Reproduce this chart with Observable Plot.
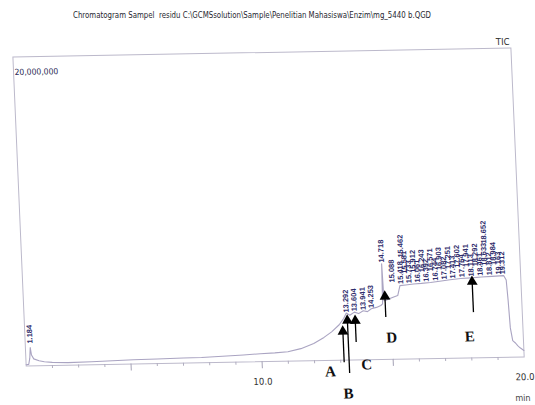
<!DOCTYPE html>
<html>
<head>
<meta charset="utf-8">
<script src="https://cdn.jsdelivr.net/npm/d3@7"></script>
<script src="https://cdn.jsdelivr.net/npm/@observablehq/plot@0.6"></script>
<style>
  html, body { margin: 0; padding: 0; background: #fff; }
  #wrap { position: relative; width: 535px; height: 405px; overflow: hidden; }
  #title { position: absolute; left: 73px; top: 9px; font: 9.5px "DejaVu Sans Condensed", "Liberation Sans", sans-serif; color: #1f1f30; white-space: pre; transform-origin: 0 0; }
  #chart svg { display: block; transform-origin: 268px 206px; transform: matrix(1, -0.018, 0.043, 1, 0, 0); }
</style>
</head>
<body>
<div id="wrap">
  <div id="chart"></div>
  <div id="title">Chromatogram Sampel  residu C:\GCMSsolution\Sample\Penelitian Mahasiswa\Enzim\mg_5440 b.QGD</div>
</div>
<script>
// ---- data ----
const traceTime = [1.00, 1.10, 1.15, 1.184, 1.22, 1.30, 1.50, 1.70, 2.00, 2.60, 3.50, 4.50, 5.10, 6.00, 7.00, 7.70, 8.50, 9.30, 9.95, 10.50, 11.00, 11.50, 12.00, 12.40, 12.70, 13.00, 13.18, 13.29, 13.42, 13.60, 13.76, 13.94, 14.10, 14.25, 14.45, 14.62, 14.69, 14.718, 14.75, 14.85, 15.00, 15.15, 15.28, 15.34, 15.38, 15.60, 15.90, 16.20, 16.55, 16.90, 17.30, 17.71, 18.10, 18.50, 18.90, 19.35, 19.44, 19.48, 19.52, 19.59, 19.70, 19.77, 19.86, 20.00];
const traceSignal = [80000, 100000, 500000, 1180000, 700000, 450000, 320000, 250000, 200000, 170000, 200000, 250000, 280000, 300000, 330000, 340000, 400000, 460000, 520000, 560000, 620000, 800000, 1120000, 1500000, 1850000, 2300000, 2700000, 3050000, 2900000, 3100000, 3000000, 3180000, 3120000, 3300000, 3380000, 3500000, 3600000, 6200000, 3800000, 3850000, 3950000, 4050000, 4120000, 4500000, 4760000, 4800000, 4850000, 4880000, 4930000, 5000000, 5080000, 5150000, 5180000, 5220000, 5250000, 5290000, 5000000, 3700000, 1900000, 1070000, 900000, 740000, 600000, 420000];

const peakTime = [1.184, 13.292, 13.604, 13.941, 14.253, 14.718, 15.088, 15.462, 18.652,
  15.418, 15.581, 15.733, 15.912, 16.061, 16.243, 16.392, 16.571, 16.744, 16.903, 17.082, 17.251,
  17.413, 17.602, 17.764, 17.941, 18.113, 18.292, 18.461, 18.633, 18.812, 18.984, 19.163, 19.312];
const peakLabelBase = [1440000, 3080000, 3150000, 3220000, 3350000, 6270000, 4970000, 6570000, 7380000,
  4860000, 5520000, 4900000, 5570000, 4940000, 5600000, 4980000, 5650000, 5040000, 5720000, 5110000, 5780000,
  5160000, 5840000, 5230000, 5880000, 5260000, 5920000, 5300000, 5950000, 5330000, 5990000, 5360000, 5370000];

const arrowName = ["A", "B", "C", "D", "E"];
const arrowTime = [13.13, 13.32, 13.62, 14.79, 18.14];
const arrowFrom = [-155000, -870000, 1130000, 2710000, 2930000];
const arrowTo = [2050000, 2760000, 2740000, 4270000, 5130000];
const letterTime = [12.59, 13.24, 13.98, 14.98, 17.96];
const letterSignal = [-720000, -2160000, -310000, 1410000, 1380000];

const minorTicks = [2, 3, 4, 6, 7, 8, 9, 11, 12, 13, 14, 16, 17, 18, 19];
const majorTicks = [5, 10, 15];
const tickLabels = [10, 20];
const yTopLabel = "20,000,000";

// ---- tables built from the arrays ----
const trace = traceTime.map((t, i) => ({t, s: traceSignal[i]}));
const peaks = peakTime.map((t, i) => ({t, base: peakLabelBase[i], label: d3.format(".3f")(t)}));
const arrows = arrowName.map((n, i) => ({n, t: arrowTime[i], from: arrowFrom[i], to: arrowTo[i], lt: letterTime[i], ls: letterSignal[i]}));

const narrow = "DejaVu Sans Condensed, Liberation Sans, sans-serif";

const chart = Plot.plot({
  width: 535,
  height: 405,
  marginLeft: 19,
  marginRight: 18,
  marginTop: 52,
  marginBottom: 44,
  style: {background: "transparent", overflow: "visible", fontFamily: narrow},
  x: {domain: [1, 20], axis: null},
  y: {domain: [0, 20000000], axis: null},
  marks: [
    Plot.frame({stroke: "#bcb9cb", strokeWidth: 1}),
    Plot.axisX({ticks: minorTicks, tickSize: 3, text: null, stroke: "#b0adbf"}),
    Plot.axisX({ticks: majorTicks, tickSize: 7, text: null, stroke: "#a5a2b6"}),
    Plot.line(trace, {x: "t", y: "s", stroke: "#aaa4c2", strokeWidth: 1.1}),
    Plot.text(peaks, {x: "t", y: "base", text: "label", rotate: -90, textAnchor: "start",
      fontSize: 7.5, fontWeight: "bold", fontFamily: "Liberation Sans", fill: "#2e2b6b"}),
    Plot.ruleX(arrows, {x: "t", y1: "from", y2: "to", stroke: "#000", strokeWidth: 1.3}),
    Plot.dot(arrows, {x: "t", y: "to", symbol: "triangle", r: 4, fill: "#000", stroke: null, dy: 3}),
    Plot.text(arrows, {x: "lt", y: "ls", text: "n", fontSize: 15, fontWeight: "bold",
      fontFamily: "Liberation Serif", fill: "#111"}),
    Plot.text(tickLabels, {x: d => d, y: 0, text: d => d3.format(".1f")(d), dy: 20,
      fontSize: 9.5, fontFamily: narrow, fill: "#333"}),
    Plot.text(["min"], {x: 20, y: 0, text: d => d, dy: 41, dx: -3, fontSize: 9,
      fontFamily: narrow, fill: "#444"}),
    Plot.text([yTopLabel], {frameAnchor: "top-left", text: d => d, dx: 1, dy: 12, textAnchor: "start",
      fontSize: 8.5, fontFamily: narrow, fill: "#2a2a55"}),
    Plot.text(["TIC"], {frameAnchor: "top-right", text: d => d, dx: -1, dy: -10, textAnchor: "end",
      fontSize: 9.5, fontFamily: narrow, fill: "#333"})
  ]
});
document.getElementById("chart").appendChild(chart);

// fit the title to the width seen in the reference
const title = document.getElementById("title");
const w = title.getBoundingClientRect().width;
if (w > 0) title.style.transform = `scaleX(${358 / w})`;
</script>
</body>
</html>
